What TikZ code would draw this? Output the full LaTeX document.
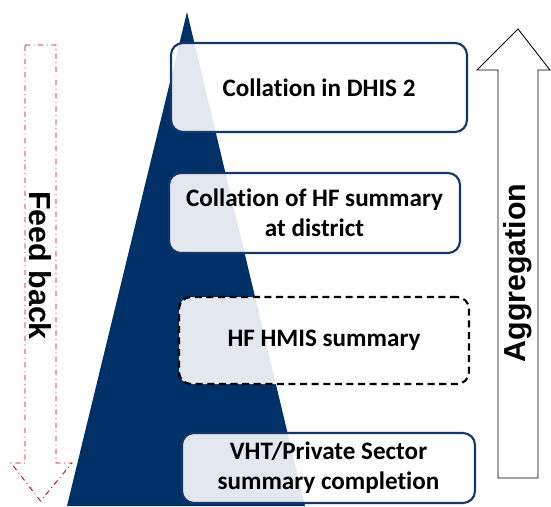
\documentclass[tikz,border=0pt]{standalone}
\usepackage{fontspec}
\setmainfont{Carlito}[Ligatures=NoCommon]
\newfontfamily\arialfont{Liberation Sans}
\usepackage{xcolor}
\usepackage{tikz}
\usetikzlibrary{positioning, calc}

\definecolor{navy}{RGB}{0,48,104}
\definecolor{boxline}{RGB}{22,54,104}
\definecolor{feedred}{RGB}{204,0,0}

\begin{document}
\begin{tikzpicture}
\tikzstyle{level} = [rectangle, rounded corners=0.24cm, minimum width=5.86cm, inner sep=0pt, align=center, text centered, draw=boxline, line width=1.2pt, fill=white, fill opacity=0.89, text opacity=1, font=\fontsize{14.3}{17}\selectfont\bfseries]
\tikzstyle{pending} = [level, draw=black, dash pattern=on 4pt off 2.6pt]
\tikzstyle{bigarrow} = [draw=black, line width=0.5pt, fill=white]
\tikzstyle{backarrow} = [draw=feedred, line width=0.5pt, dash dot]
\tikzstyle{sidelabel} = [font=\arialfont\fontsize{17.3}{20}\selectfont\bfseries]

\useasboundingbox (0,0) rectangle (11.02,10.12);

% pyramid
\fill[navy] (3.74,9.88) -- (6.10,0) -- (1.34,0) -- cycle;

% levels
\node[level, minimum width=5.92cm, minimum height=1.78cm] (dhis) at (6.38,8.37) {Collation in DHIS 2};
\node[level, minimum width=5.82cm, minimum height=1.60cm] (district) at (6.29,5.86) {Collation of HF summary\\at district};
\node[pending, minimum width=5.80cm, minimum height=1.74cm] (hmis) at (6.48,3.31) {HF HMIS summary};
\node[level, minimum width=5.86cm, minimum height=1.40cm] (vht) at (6.57,0.76) {VHT/Private Sector\\summary completion};

% feed back arrow
\draw[backarrow] (0.50,9.22) -- (1.12,9.22) -- (1.12,0.86) -- (1.44,0.86) -- (0.81,0.10) -- (0.22,0.86) -- (0.50,0.86) -- cycle;
\node[sidelabel, rotate=-90] (feedback) at (0.81,4.81) {Feed back};

% aggregation arrow
\draw[bigarrow] (10.36,9.54) -- (11.00,8.72) -- (10.76,8.72) -- (10.76,0.56) -- (9.96,0.56) -- (9.96,8.72) -- (9.54,8.72) -- cycle;
\node[sidelabel, rotate=90] (aggregation) at (10.36,4.66) {Aggregation};
\end{tikzpicture}
\end{document}
